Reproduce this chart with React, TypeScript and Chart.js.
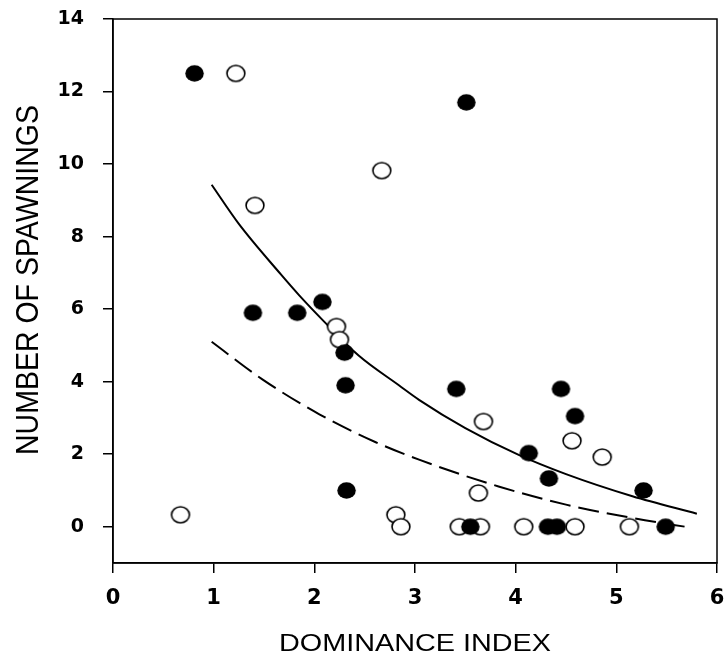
import React, { useEffect, useRef } from 'react';
import { Chart, registerables } from 'chart.js';

Chart.register(...registerables);

// ---- data ----
const xTickValues = [0, 1, 2, 3, 4, 5, 6];
const yTickValues = [0, 2, 4, 6, 8, 10, 12, 14];

const xTitle = 'DOMINANCE INDEX';
const yTitle = 'NUMBER OF SPAWNINGS';

// filled circles
const filledX = [0.81, 3.51, 1.39, 1.83, 2.08, 2.30, 2.31, 2.32, 3.41, 3.55, 4.45, 4.59, 4.13, 4.33, 5.27, 4.32, 4.41, 5.49];
const filledY = [12.5, 11.7, 5.9, 5.9, 6.2, 4.8, 3.9, 1.0, 3.8, 0, 3.8, 3.05, 2.03, 1.33, 1.0, 0, 0, 0];

// open circles
const openX = [1.22, 2.67, 1.41, 2.22, 2.25, 0.67, 2.81, 2.86, 3.68, 3.63, 4.56, 4.86, 3.44, 3.65, 4.08, 4.59, 5.13];
const openY = [12.5, 9.82, 8.86, 5.52, 5.16, 0.33, 0.33, 0, 2.9, 0.93, 2.37, 1.92, 0, 0, 0, 0, 0];

// solid fitted curve
const solidX = [0.98, 1.25, 1.67, 1.85, 2.1, 2.44, 2.84, 3.04, 3.5, 4.03, 4.5, 5.16, 5.8];
const solidY = [9.43, 8.35, 6.95, 6.38, 5.65, 4.72, 3.9, 3.5, 2.72, 1.98, 1.45, 0.84, 0.36];

// dashed fitted curve
const dashX = [0.98, 1.48, 2.05, 2.61, 3.04, 3.83, 4.5, 5.16, 5.75];
const dashY = [5.1, 4.07, 3.1, 2.33, 1.85, 1.11, 0.61, 0.24, -0.03];

const toPts = (xs: number[], ys: number[]) => xs.map((x, i) => ({ x, y: ys[i] }));

function makeEllipse(w: number, h: number, fill: string, stroke: string, lw: number) {
  const c = document.createElement('canvas');
  c.width = Math.ceil(w) + 2;
  c.height = Math.ceil(h) + 2;
  const g = c.getContext('2d')!;
  g.beginPath();
  g.ellipse(c.width / 2, c.height / 2, w / 2 - lw / 2, h / 2 - lw / 2, 0, 0, Math.PI * 2);
  g.fillStyle = fill;
  g.fill();
  if (lw > 0) {
    g.lineWidth = lw;
    g.strokeStyle = stroke;
    g.stroke();
  }
  return c;
}

export default function App() {
  const ref = useRef<HTMLCanvasElement>(null);

  useEffect(() => {
    document.body.style.margin = '0';
    const canvas = ref.current;
    if (!canvas) return;

    const filledImg = makeEllipse(18.5, 16.5, '#000', '#000', 0);
    const openImg = makeEllipse(19.5, 17.5, '#fff', '#000', 1.6);

    const framePlugin = {
      id: 'frameAndTitles',
      afterDraw(chart: any) {
        const { ctx, chartArea: a } = chart;
        ctx.save();
        ctx.strokeStyle = '#000';
        ctx.lineWidth = 1.5;
        ctx.strokeRect(a.left, a.top, a.right - a.left, a.bottom - a.top);

        ctx.fillStyle = '#000';
        ctx.textAlign = 'center';
        ctx.textBaseline = 'alphabetic';

        ctx.save();
        ctx.font = '24px "Liberation Sans", Arial, sans-serif';
        ctx.translate((a.left + a.right) / 2, 651);
        ctx.scale(1.2, 1);
        ctx.fillText(xTitle, 0, 0);
        ctx.restore();

        ctx.save();
        ctx.font = '28.5px "Liberation Sans", Arial, sans-serif';
        ctx.translate(38, 280);
        ctx.rotate(-Math.PI / 2);
        ctx.scale(1, 1.1);
        ctx.fillText(yTitle, 0, 0);
        ctx.restore();

        ctx.restore();
      },
    };

    const xTickFont = { family: '"DejaVu Sans", sans-serif', size: 21, weight: 'bold' as const };
    const yTickFont = { family: '"DejaVu Sans", sans-serif', size: 19, weight: 'bold' as const };

    const chart = new Chart(canvas, {
      type: 'scatter',
      data: {
        datasets: [
          {
            label: 'filled',
            data: toPts(filledX, filledY),
            pointStyle: filledImg as any,
            pointRadius: 9,
            order: 0,
          },
          {
            label: 'open',
            data: toPts(openX, openY),
            pointStyle: openImg as any,
            pointRadius: 9,
            order: 1,
          },
          {
            label: 'solid fit',
            data: toPts(solidX, solidY),
            showLine: true,
            borderColor: '#000',
            borderWidth: 2,
            pointRadius: 0,
            cubicInterpolationMode: 'monotone',
            order: 2,
          },
          {
            label: 'dashed fit',
            data: toPts(dashX, dashY),
            showLine: true,
            borderColor: '#000',
            borderWidth: 2,
            borderDash: [21, 8],
            pointRadius: 0,
            cubicInterpolationMode: 'monotone',
            order: 3,
          },
        ],
      },
      options: {
        animation: false,
        responsive: false,
        maintainAspectRatio: false,
        layout: { padding: { top: 19, right: 10, left: 0, bottom: 0 } },
        plugins: {
          legend: { display: false },
          tooltip: { enabled: false },
        },
        scales: {
          x: {
            type: 'linear',
            min: 0,
            max: 6,
            afterBuildTicks: (s: any) => {
              s.ticks = xTickValues.map((v) => ({ value: v }));
            },
            afterFit: (s: any) => {
              s.height = 93;
              s.paddingLeft = 0;
              s.paddingRight = 0;
              s.paddingTop = 0;
              s.paddingBottom = 0;
            },
            ticks: { color: '#000', font: xTickFont, padding: 13, maxRotation: 0 },
            grid: { drawOnChartArea: false, tickLength: 10, color: '#000', lineWidth: 1.5 },
            border: { color: '#000', width: 1.5 },
          },
          y: {
            type: 'linear',
            min: -1,
            max: 14,
            afterBuildTicks: (s: any) => {
              s.ticks = yTickValues.map((v) => ({ value: v }));
            },
            afterFit: (s: any) => {
              s.width = 113;
              s.paddingLeft = 0;
              s.paddingRight = 0;
              s.paddingTop = 0;
              s.paddingBottom = 0;
            },
            ticks: { color: '#000', font: yTickFont, padding: 19 },
            grid: { drawOnChartArea: false, tickLength: 10, color: '#000', lineWidth: 1.5 },
            border: { color: '#000', width: 1.5 },
          },
        },
      },
      plugins: [framePlugin],
    });

    return () => chart.destroy();
  }, []);

  return (
    <div style={{ width: 727, height: 656 }}>
      <canvas ref={ref} width={727} height={656} style={{ display: 'block' }} />
    </div>
  );
}
